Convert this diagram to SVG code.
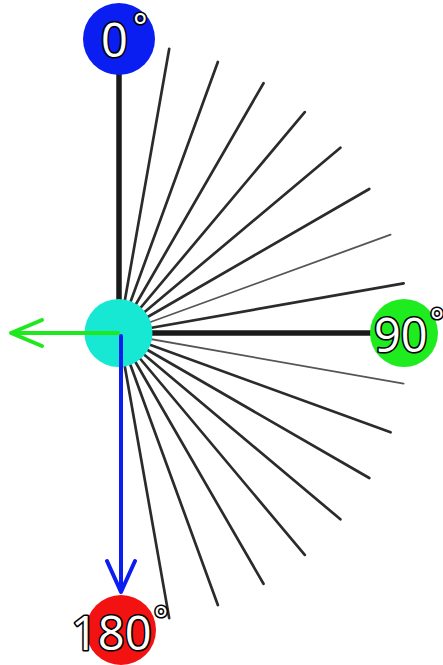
<svg xmlns="http://www.w3.org/2000/svg" width="443" height="665" viewBox="0 0 443 665">
  <style>
    .ray { stroke: #2b2b2b; stroke-width: 2.7; stroke-linecap: round; }
    .ray.thin { stroke: #555; stroke-width: 1.8; }
    .axis { stroke: #1a1a1a; stroke-width: 5.5; }
    .lbl { font-family: "Open Sans", "Noto Sans", sans-serif; font-size: 47px; fill: #fff; stroke: #000; stroke-width: 3.2; paint-order: stroke; stroke-linejoin: round; }
    .deg { font-size: 34px; }
    .arrow { fill: none; stroke-width: 4; stroke-linecap: round; stroke-linejoin: round; }
  </style>
  <rect width="443" height="665" fill="#fff"/>
  <g id="rays" transform="translate(119,333.5)">
    <line class="ray" x1="0" y1="0" x2="0" y2="-289" transform="rotate(10)"/>
    <line class="ray" x1="0" y1="0" x2="0" y2="-289" transform="rotate(20)"/>
    <line class="ray" x1="0" y1="0" x2="0" y2="-289" transform="rotate(30)"/>
    <line class="ray" x1="0" y1="0" x2="0" y2="-289" transform="rotate(40)"/>
    <line class="ray" x1="0" y1="0" x2="0" y2="-289" transform="rotate(50)"/>
    <line class="ray" x1="0" y1="0" x2="0" y2="-289" transform="rotate(60)"/>
    <line class="ray thin" x1="0" y1="0" x2="0" y2="-289" transform="rotate(70)"/>
    <line class="ray" x1="0" y1="0" x2="0" y2="-289" transform="rotate(80)"/>
    <line class="ray thin" x1="0" y1="0" x2="0" y2="-289" transform="rotate(100)"/>
    <line class="ray" x1="0" y1="0" x2="0" y2="-289" transform="rotate(110)"/>
    <line class="ray" x1="0" y1="0" x2="0" y2="-289" transform="rotate(120)"/>
    <line class="ray" x1="0" y1="0" x2="0" y2="-289" transform="rotate(130)"/>
    <line class="ray" x1="0" y1="0" x2="0" y2="-289" transform="rotate(140)"/>
    <line class="ray" x1="0" y1="0" x2="0" y2="-289" transform="rotate(150)"/>
    <line class="ray" x1="0" y1="0" x2="0" y2="-289" transform="rotate(160)"/>
    <line class="ray" x1="0" y1="0" x2="0" y2="-289" transform="rotate(170)"/>
  </g>
  <g id="connectors">
    <line class="axis" x1="119" y1="333" x2="119" y2="70"/>
    <line class="axis" x1="119" y1="333" x2="375" y2="333"/>
  </g>
  <g id="node-0">
    <circle cx="119" cy="39" r="36" fill="#0b1ef2"/>
    <text class="lbl" x="101" y="57">0<tspan class="deg" dx="5" dy="-18">°</tspan></text>
  </g>
  <g id="node-90">
    <circle cx="404" cy="333" r="34" fill="#1fec1f"/>
    <text class="lbl" x="374" y="352">90<tspan class="deg" dx="2" dy="-18">°</tspan></text>
  </g>
  <g id="node-180">
    <circle cx="121" cy="630" r="35" fill="#f21212"/>
    <text class="lbl" x="71" y="650">180<tspan class="deg" dx="2" dy="-18">°</tspan></text>
  </g>
  <g id="node-center">
    <circle cx="118.5" cy="333" r="34" fill="#17e8d3"/>
  </g>
  <g id="arrows">
    <path class="arrow" stroke="#1fe81f" d="M118,333 H11 M42,320 L11,333 L42,346"/>
    <path class="arrow" stroke="#0b1ef2" d="M121,336 V592 M107,561 L121,592 L135,561"/>
  </g>
</svg>
